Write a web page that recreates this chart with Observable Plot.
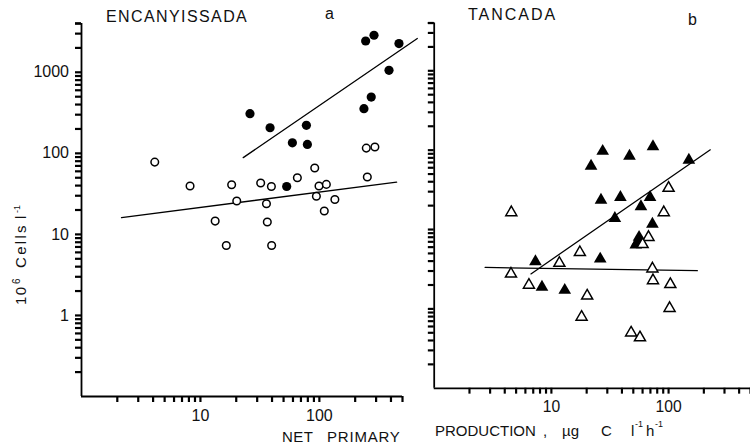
<!DOCTYPE html>
<html><head><meta charset="utf-8">
<script src="https://cdn.jsdelivr.net/npm/d3@7"></script>
<script src="https://cdn.jsdelivr.net/npm/@observablehq/plot@0.6"></script>
<style>
body{margin:0;background:#fff}
#wrap{position:relative;width:750px;height:448px;overflow:hidden;background:#fff}
#left,#right{position:absolute;top:0}
#left{left:0}
#right{left:420px}
#labels{position:absolute;left:0;top:0;pointer-events:none}
</style></head><body>
<div id="wrap"><div id="left"></div><div id="right"></div>
<svg id="labels" width="750" height="448" font-family="Liberation Sans, Arial, sans-serif" fill="#111">
  <text x="106" y="21.7" font-size="16" letter-spacing="1.4">ENCANYISSADA</text>
  <text x="325" y="18.5" font-size="16">a</text>
  <text x="468" y="20" font-size="16" letter-spacing="2">TANCADA</text>
  <text x="688" y="25" font-size="16">b</text>
  <text x="282" y="442" font-size="15" letter-spacing="0.5">NET</text>
  <text x="327" y="442" font-size="15" letter-spacing="0.8">PRIMARY</text>
  <text x="435" y="436" font-size="15">PRODUCTION</text>
  <text x="543" y="436" font-size="15">,</text>
  <text x="562" y="436" font-size="15">µg</text>
  <text x="601" y="436" font-size="15">C</text>
  <text x="631" y="436" font-size="15">l</text>
  <text x="635" y="427" font-size="9">-1</text>
  <text x="646" y="436" font-size="15">h</text>
  <text x="655" y="427" font-size="9">-1</text>
  <text transform="translate(26,305) rotate(-90)" font-size="15" letter-spacing="1.5">10</text>
  <text transform="translate(20,284) rotate(-90)" font-size="10">6</text>
  <text transform="translate(26,268) rotate(-90)" font-size="15" letter-spacing="2.3">Cells</text>
  <text transform="translate(26,219) rotate(-90)" font-size="15">l</text>
  <text transform="translate(20,213) rotate(-90)" font-size="9">-1</text>
</svg></div>
<script>
// ---- tick labels ----
const xMajor = [10, 100];
const yMajor = [1, 10, 100, 1000];

// ---- ENCANYISSADA (panel a) ----
const encFilledX = [26.1, 38.5, 59.3, 77.8, 79.3, 53.1, 237, 273, 245, 288, 385, 467];
const encFilledY = [309, 207, 135, 222, 129, 39, 356, 495, 2434, 2864, 1059, 2261];
const encOpenX = [4.13, 8.18, 18.3, 20.2, 32.1, 39.5, 35.9, 65.3, 91.4, 99.3, 114.5, 94.4, 135, 110, 248, 293, 253, 13.3, 16.5, 36.5, 39.7];
const encOpenY = [78, 39.5, 41, 25.8, 43, 39, 23.9, 50, 65.9, 39.5, 41.4, 29.5, 27, 19.4, 116, 120, 51, 14.6, 7.3, 14.2, 7.3];
const encFilledLineX = [22.9, 666];
const encFilledLineY = [88.5, 2608];
const encOpenLineX = [2.17, 446];
const encOpenLineY = [16.1, 44.2];

// ---- TANCADA (panel b) ----
const tanFilledX = [27.4, 21.8, 46.4, 73.6, 149, 26.5, 38.8, 69.5, 58.1, 34.8, 72.8, 56, 54.5, 52.5, 26.1, 7.31, 8.31, 13.0];
const tanFilledY = [97, 63, 84, 111, 75, 23.5, 25.5, 25.5, 19.4, 13.8, 11.7, 8.0, 7.0, 6.4, 4.26, 3.95, 1.88, 1.72];
const tanOpenX = [4.55, 100, 91, 67.4, 60, 17.5, 11.7, 4.52, 6.43, 72.8, 73.6, 103.5, 20.2, 102, 18.1, 47.9, 57];
const tanOpenY = [16.4, 33.3, 16.4, 8.0, 6.5, 5.15, 3.77, 2.76, 2.0, 3.21, 2.28, 2.04, 1.46, 1.02, 0.79, 0.50, 0.435];
const tanFilledLineX = [6.69, 227];
const tanFilledLineY = [2.76, 101];
const tanOpenLineX = [2.72, 176];
const tanOpenLineY = [3.33, 3.03];

const zip = (xs, ys) => xs.map((x, i) => ({x, y: ys[i]}));
const xDomain = [1, 500], yDomain = [0.1, 4000];
const xTicks = d3.scaleLog().domain(xDomain).ticks().filter(d => d > 1);
const yTicks = d3.scaleLog().domain(yDomain).ticks().filter(d => d > 0.11).concat([4000]);
const ink = "black";
const font = "Liberation Sans, Arial, sans-serif";
const H = 448, MT = 23, MB = 52;

function panel({width, marginLeft, marginRight, labels, filled, open, lineA, lineB, symbol}) {
  const isTri = symbol === "triangle";
  return Plot.plot({
    width, height: H,
    marginLeft, marginRight, marginTop: MT, marginBottom: MB,
    x: {type: "log", domain: xDomain},
    y: {type: "log", domain: yDomain},
    style: {fontFamily: font, fontSize: "16px", color: "#111", background: "white", overflow: "visible"},
    marks: [
      Plot.axisY({ticks: yTicks, tickSize: 6, stroke: ink, strokeWidth: 2.2, label: null, tickFormat: () => ""}),
      Plot.axisX({ticks: xTicks, tickSize: 6, stroke: ink, strokeWidth: 2.2, label: null, tickFormat: () => ""}),
      Plot.ruleX([1], {stroke: ink, strokeWidth: 1.8}),
      Plot.ruleY([0.1], {stroke: ink, strokeWidth: 1.8}),
      ...(labels ? [Plot.axisY({ticks: yMajor, tickSize: 0, tickPadding: 12.5, fontSize: 16, label: null,
        tickFormat: d => String(d)})] : []),
      Plot.axisX({ticks: xMajor, tickSize: 0, tickPadding: 13, fontSize: 16, label: null,
        tickFormat: d => String(d)}),
      Plot.line(lineA, {x: "x", y: "y", stroke: ink, strokeWidth: 1.3}),
      Plot.line(lineB, {x: "x", y: "y", stroke: ink, strokeWidth: 1.3}),
      Plot.dot(filled, {x: "x", y: "y", symbol, r: isTri ? 4.8 : 4.6, fill: ink, stroke: "none"}),
      Plot.dot(open, {x: "x", y: "y", symbol, r: isTri ? 4.2 : 3.8, fill: "white", stroke: ink, strokeWidth: 1.5})
    ]
  });
}

document.getElementById("left").append(panel({
  width: 420, marginLeft: 81, marginRight: 18, labels: true, symbol: "circle",
  filled: zip(encFilledX, encFilledY), open: zip(encOpenX, encOpenY),
  lineA: zip(encFilledLineX, encFilledLineY), lineB: zip(encOpenLineX, encOpenLineY)
}));
document.getElementById("right").append(panel({
  width: 337, marginLeft: 14, marginRight: 0, labels: false, symbol: "triangle",
  filled: zip(tanFilledX, tanFilledY), open: zip(tanOpenX, tanOpenY),
  lineA: zip(tanFilledLineX, tanFilledLineY), lineB: zip(tanOpenLineX, tanOpenLineY)
}));
</script>
</body></html>
